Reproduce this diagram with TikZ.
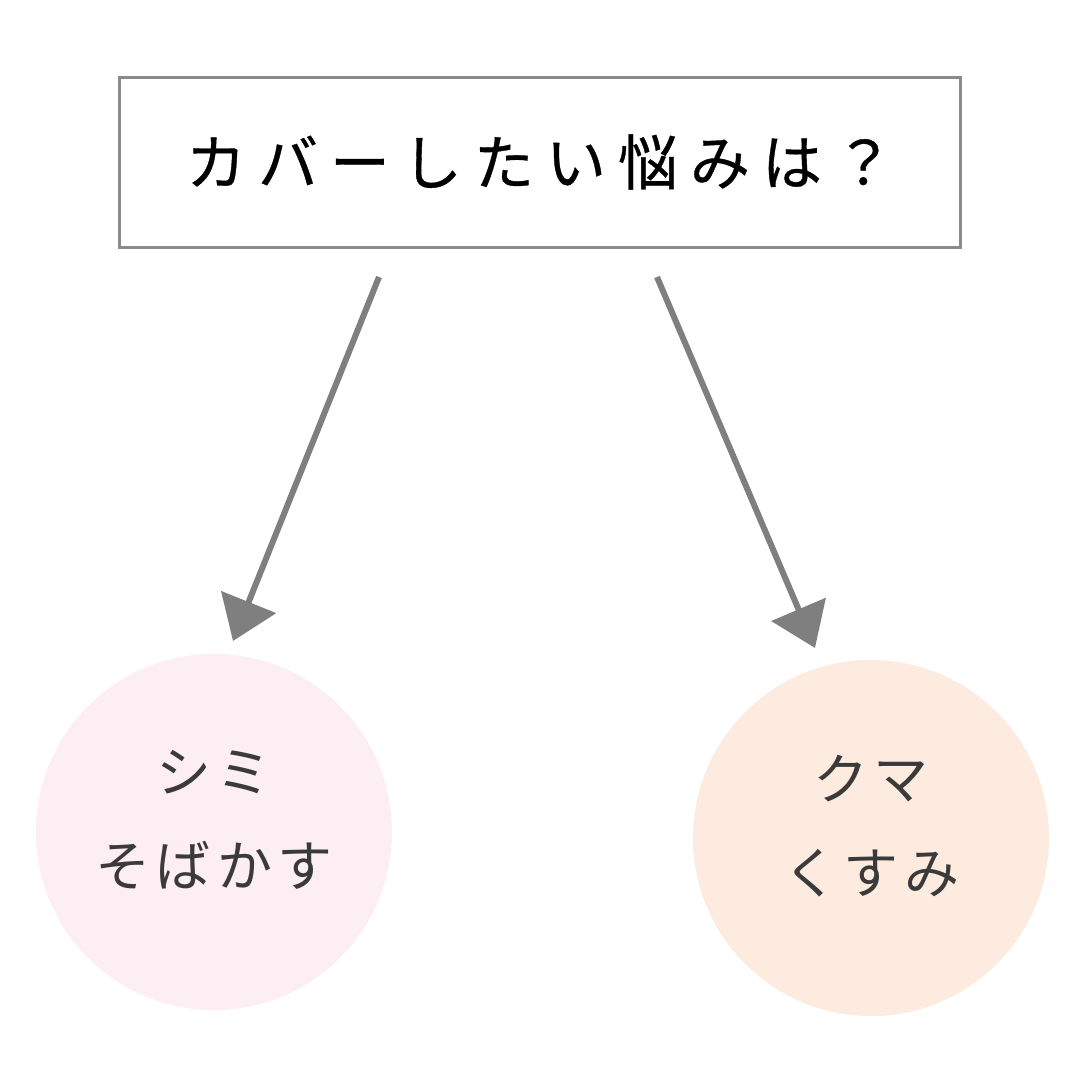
\documentclass[tikz,border=0pt]{standalone}
\usepackage{fontspec}
\setmainfont{Noto Sans CJK JP}
\newfontfamily\titlefont[LetterSpace=20,FakeBold=0.6]{Noto Sans CJK JP}
\newfontfamily\bubblefont[LetterSpace=10]{Noto Sans CJK JP}
\usetikzlibrary{arrows.meta,positioning}
\definecolor{framegray}{HTML}{8A8A8A}
\definecolor{arrowgray}{HTML}{7F7F7F}
\definecolor{pinkfill}{HTML}{FCEEF2}
\definecolor{peachfill}{HTML}{FDEBDF}
\definecolor{inkgray}{HTML}{3A3A3A}

\begin{document}
\begin{tikzpicture}[x=1pt,y=-1pt,
    titlebox/.style={draw=framegray, line width=3pt, minimum width=841pt,
      minimum height=170pt, inner sep=0pt, font=\titlefont\fontsize{60}{64}\selectfont},
    bubble/.style={circle, minimum size=356pt, inner sep=0pt},
    bubbletext/.style={align=center, text=inkgray,
      font=\bubblefont\fontsize{55}{94}\selectfont},
    arr/.style={-{Triangle[length=42pt,width=58pt]}, draw=arrowgray, line width=6pt}]
  \useasboundingbox[fill=white] (0,0) rectangle (1080,1077);

  % question box
  \node[titlebox] (question) at (540,162) {カバーしたい悩みは？};

  % answer circles
  \node[bubble, fill=pinkfill,
    label={[bubbletext, yshift=12pt]center:シミ\\そばかす}] (shimi) at (214,832) {};
  \node[bubble, fill=peachfill,
    label={[bubbletext, yshift=12pt]center:クマ\\くすみ}] (kuma) at (871,838) {};

  % arrow ends
  \coordinate (startL) at (379,277);
  \coordinate (tipL) at (233,641);
  \coordinate (startR) at (657,277);
  \coordinate (tipR) at (815,648);

  \draw[arr] (startL) -- (tipL);
  \draw[arr] (startR) -- (tipR);
\end{tikzpicture}
\end{document}
